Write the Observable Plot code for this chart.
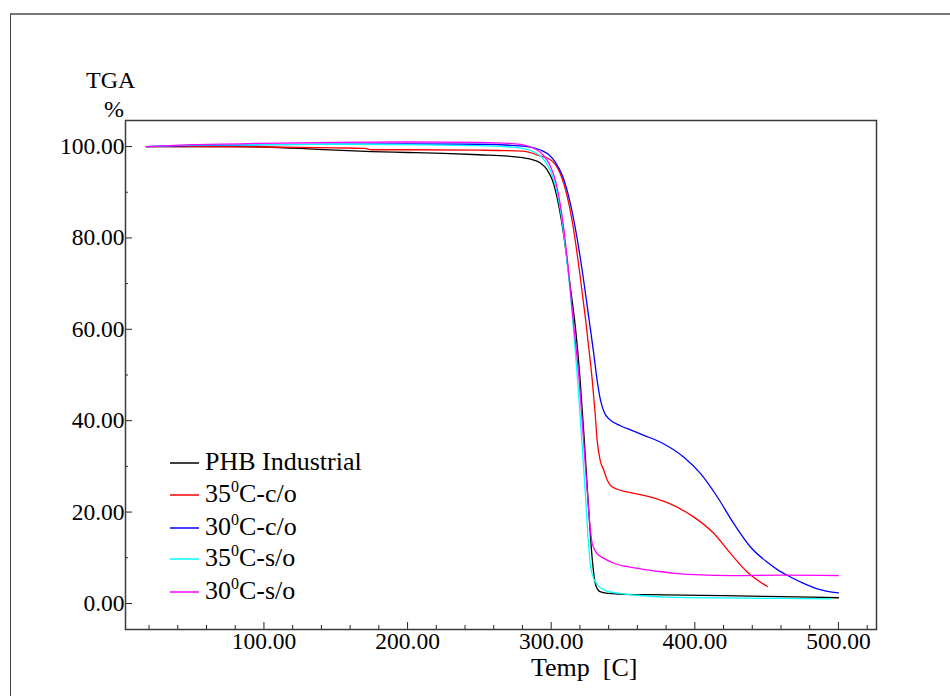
<!DOCTYPE html>
<html>
<head>
<meta charset="utf-8">
<script src="https://cdn.jsdelivr.net/npm/d3@7"></script>
<script src="https://cdn.jsdelivr.net/npm/@observablehq/plot@0.6"></script>
<style>
  html, body { margin: 0; padding: 0; background: #fff; }
  #wrap { position: relative; width: 950px; height: 696px; overflow: hidden; font-family: "Liberation Serif", "Times New Roman", serif; color: #000; }
  #outer { position: absolute; left: 10px; top: 13px; width: 1000px; height: 800px; border-left: 1.5px solid #444; border-top: 2px solid #777; }
  #chart { position: absolute; left: 0; top: 0; }
  .lbl { position: absolute; font-size: 24px; line-height: 1; white-space: nowrap; }
  #legend { position: absolute; left: 170px; top: 447px; }
  .row { position: absolute; left: 0; height: 30px; width: 220px; }
  .row svg { position: absolute; left: 0; top: 14px; }
  .row .tx { position: absolute; left: 35px; top: 2px; font-size: 26px; line-height: 1; white-space: nowrap; }
  .row sup { font-size: 16px; vertical-align: 0; position: relative; top: -10px; }
</style>
</head>
<body>
<div id="wrap">
  <div id="outer"></div>
  <div id="chart"></div>
  <div class="lbl" style="left:86px; top:68px;">TGA</div>
  <div class="lbl" style="left:104px; top:97px;">%</div>
  <div class="lbl" style="left:531px; top:658px; font-size:26px; line-height:0.8;">Temp&nbsp; [C]</div>
  <div id="legend"></div>
</div>
<script>
// Series names and colours
const seriesNames = ["PHB Industrial", "35C-c/o", "30C-c/o", "35C-s/o", "30C-s/o"];
const seriesColors = ["#000000", "#ff0000", "#0000ff", "#00ffff", "#ff00ff"];

// PHB Industrial (black)
const tempPHB = [18, 40, 60, 80, 100, 125, 150, 175, 200, 225, 250, 270, 285, 292, 297, 301, 305, 309, 313, 317, 320, 323, 326, 328.5, 331, 334, 340, 350, 380, 420, 460, 500];
const tgaPHB  = [100, 100, 100, 100, 99.9, 99.6, 99.2, 98.9, 98.7, 98.5, 98.2, 97.9, 97.3, 96.5, 95, 92.5, 87.5, 80, 70, 60, 49.5, 36, 21, 10, 4, 2.6, 2.2, 2.0, 1.9, 1.7, 1.5, 1.25];

// 35C-c/o (red)
const temp35co = [18, 50, 100, 150, 170, 175, 200, 250, 280, 292, 300, 305, 310, 315, 320, 324, 326.5, 328.6, 330.5, 332, 334, 336.7, 339, 341.4, 346, 353, 369, 385.5, 399.4, 413.3, 425, 436.5, 450.5];
const tga35co  = [100, 100, 99.9, 99.7, 99.6, 99.3, 99.3, 99.2, 99, 98, 97, 95, 90.5, 83, 72, 62, 55, 48.8, 42, 35.7, 31.5, 29.1, 27, 25.8, 25, 24.4, 23.3, 21.4, 18.9, 15.3, 10.9, 6.9, 3.7];

// 30C-c/o (blue)
const temp30co = [18, 50, 100, 150, 200, 250, 280, 292, 298, 303, 308, 313, 318, 322, 326, 329.5, 332, 334.4, 337, 340.2, 348.3, 356, 364.6, 378.5, 392.4, 404, 415.7, 427.3, 438.9, 450.5, 458, 466.6, 475, 485.3, 500];
const tga30co  = [100, 100.2, 100.4, 100.5, 100.6, 100.5, 100.1, 99.3, 98.3, 96.5, 93.5, 88, 80, 72, 63, 55, 48.8, 44.4, 41.8, 40.4, 38.9, 37.9, 36.8, 34.9, 32, 28.4, 23.3, 17.4, 12.3, 9, 7.3, 5.8, 4.5, 3.2, 2.3];

// 35C-s/o (cyan)
const temp35so = [18, 50, 100, 150, 200, 250, 275, 288, 294, 299, 303, 307, 311, 315, 318.4, 321, 324, 326, 327.5, 330, 333, 338, 345, 360, 381, 420, 460, 494.5];
const tga35so  = [100, 100.3, 100.4, 100.5, 100.4, 100.2, 99.8, 98.8, 97.5, 95, 91.5, 85, 75, 62, 48.8, 37, 23, 13, 7.9, 5.2, 3.8, 2.8, 2.3, 1.8, 1.4, 1.2, 1.1, 1.0];

// 30C-s/o (magenta)
const temp30so = [18, 50, 100, 150, 200, 250, 275, 288, 294, 299, 303, 307, 311, 315, 319.5, 322, 325, 327, 328.6, 332, 337, 343.7, 352, 362, 375, 385.5, 400, 427, 460, 500];
const tga30so  = [100, 100.4, 100.7, 100.9, 101, 100.9, 100.6, 99.6, 98.3, 96, 92.5, 86, 76, 63, 48.8, 38, 25, 17, 13.1, 10.9, 9.8, 8.8, 8.1, 7.6, 7.0, 6.6, 6.3, 6.1, 6.2, 6.1];

// Tick values
const xMajorTicks = [100, 200, 300, 400, 500];
const xMinorTicks = [20, 40, 60, 80, 120, 140, 160, 180, 220, 240, 260, 280, 320, 340, 360, 380, 420, 440, 460, 480, 520];
const yMajorTicks = [0, 20, 40, 60, 80, 100];
const yMinorTicks = [10, 30, 50, 70, 90];

const seriesTemps = [tempPHB, temp35co, temp30co, temp35so, temp30so];
const seriesTga = [tgaPHB, tga35co, tga30co, tga35so, tga30so];

const rows = [];
seriesNames.forEach((name, si) => {
  seriesTemps[si].forEach((t, i) => rows.push({series: name, temp: t, tga: seriesTga[si][i]}));
});

const fmt = d => d.toFixed(2);

const chart = Plot.plot({
  width: 950,
  height: 696,
  marginLeft: 125,
  marginRight: 74,
  marginTop: 120,
  marginBottom: 67,
  style: {fontFamily: "Liberation Serif, Times New Roman, serif", fontSize: "23.5px", color: "#000", background: "transparent"},
  x: {domain: [3.6, 526.5]},
  y: {domain: [-5.7, 105.7]},
  color: {domain: seriesNames, range: seriesColors},
  marks: [
    Plot.axisX(xMinorTicks, {tickSize: -4, tickFormat: () => "", label: null, stroke: "#222"}),
    Plot.axisX(xMajorTicks, {tickSize: -7, tickFormat: () => "", label: null, stroke: "#222"}),
    Plot.axisX(xMajorTicks, {tickSize: 0, tickPadding: 3, tickFormat: fmt, label: null, fontSize: 23.5}),
    Plot.axisY(yMinorTicks, {tickSize: -3, tickFormat: () => "", label: null, stroke: "#222"}),
    Plot.axisY(yMajorTicks, {tickSize: -7, tickFormat: () => "", label: null, stroke: "#222"}),
    Plot.axisY(yMajorTicks, {tickSize: 0, tickPadding: 1, tickFormat: fmt, label: null, fontSize: 23.5}),
    Plot.line(rows, {x: "temp", y: "tga", z: "series", stroke: "series", strokeWidth: 1.3, curve: "monotone-x"}),
    Plot.frame({stroke: "#3a3a3a", strokeWidth: 1.5})
  ]
});
document.getElementById("chart").appendChild(chart);

// Legend (inside plot area, lower left)
const legendLabels = [
  "PHB Industrial",
  "35<sup>0</sup>C-c/o",
  "30<sup>0</sup>C-c/o",
  "35<sup>0</sup>C-s/o",
  "30<sup>0</sup>C-s/o"
];
const legendRowTops = [0, 32, 65, 96, 129];
const leg = document.getElementById("legend");
legendLabels.forEach((lab, i) => {
  const r = document.createElement("div");
  r.className = "row";
  r.style.top = legendRowTops[i] + "px";
  r.innerHTML = `<svg width="30" height="4"><line x1="0" x2="29" y1="2" y2="2" stroke="${seriesColors[i]}" stroke-width="1.5"/></svg><div class="tx">${lab}</div>`;
  leg.appendChild(r);
});
</script>
</body>
</html>
